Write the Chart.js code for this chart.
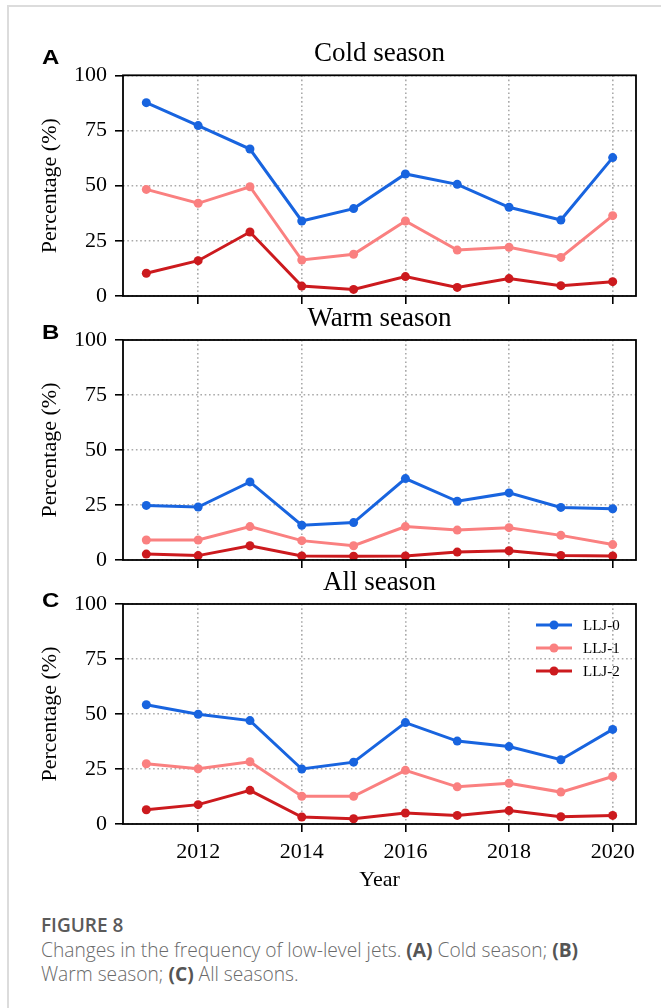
<!DOCTYPE html>
<html>
<head>
<meta charset="utf-8">
<script src="https://cdn.jsdelivr.net/npm/chart.js@4.4.1/dist/chart.umd.min.js"></script>
<style>
  html, body { margin: 0; padding: 0; background: #fff; }
  body { width: 661px; height: 1008px; position: relative; overflow: hidden; }
  .frame { position: absolute; left: 7px; top: 5px; width: 660px; height: 1010px;
           border-top: 2px solid #dcdcdc; border-left: 2px solid #dcdcdc; }
  canvas { position: absolute; left: 0; }
  .plabel { position: absolute; left: 42px; font-family: "Liberation Sans", Arial, sans-serif;
            font-weight: bold; font-size: 20px; line-height: 20px; color: #000;
            transform: scaleX(1.2); transform-origin: left top; }
  .figtitle { position: absolute; left: 41px; top: 913px; font-family: "Open Sans", sans-serif;
              font-weight: 600; font-size: 19px; line-height: 24px; color: #5a5a5a; }
  .caption { position: absolute; left: 41px; top: 938px; width: 570px; font-family: "Open Sans", sans-serif;
             font-weight: 300; font-size: 19.2px; line-height: 23.5px; color: #6a6a6a; }
  .caption b { color: #555; font-weight: 700; }
</style>
</head>
<body>
<div class="frame"></div>
<canvas id="cA" width="661" height="306" style="top:0px"></canvas>
<canvas id="cB" width="661" height="290" style="top:280px"></canvas>
<canvas id="cC" width="661" height="349" style="top:545px"></canvas>
<div class="plabel" style="top:47px">A</div>
<div class="plabel" style="top:322px">B</div>
<div class="plabel" style="top:590px">C</div>
<div class="figtitle">FIGURE 8</div>
<div class="caption">Changes in the frequency of low-level jets. <b>(A)</b> Cold season; <b>(B)</b> Warm season; <b>(C)</b> All seasons.</div>
<script>
// ---- data ----
const years = [2011, 2012, 2013, 2014, 2015, 2016, 2017, 2018, 2019, 2020];
const seriesNames = ["LLJ-0", "LLJ-1", "LLJ-2"];
const xTickValues = [2012, 2014, 2016, 2018, 2020];
const yTickValues = [0, 25, 50, 75, 100];

const cold0 = [87.6, 77.2, 66.6, 34.0, 39.6, 55.3, 50.6, 40.2, 34.4, 62.7];
const cold1 = [48.3, 42.0, 49.5, 16.3, 18.9, 34.0, 20.8, 22.1, 17.5, 36.4];
const cold2 = [10.3, 16.0, 29.0, 4.5, 3.0, 8.8, 3.9, 7.9, 4.7, 6.5];

const warm0 = [24.8, 24.1, 35.5, 15.8, 17.0, 37.0, 26.7, 30.5, 23.9, 23.3];
const warm1 = [9.1, 9.1, 15.2, 8.8, 6.5, 15.2, 13.6, 14.7, 11.2, 7.0];
const warm2 = [2.7, 2.0, 6.5, 1.8, 1.7, 1.8, 3.6, 4.2, 2.1, 1.8];

const all0 = [54.2, 49.9, 47.0, 25.0, 28.1, 46.1, 37.7, 35.2, 29.2, 43.0];
const all1 = [27.4, 25.1, 28.3, 12.6, 12.6, 24.4, 16.9, 18.5, 14.5, 21.6];
const all2 = [6.5, 8.8, 15.3, 3.2, 2.4, 5.0, 3.9, 6.1, 3.3, 3.9];

const colors = ["#1864df", "#fa8080", "#cc1a1e"];

Chart.defaults.font.family = '"Liberation Serif", "Times New Roman", serif';
Chart.defaults.color = "#000";

const framePlugin = {
  id: "frame",
  afterDatasetsDraw(chart) {
    const {ctx, chartArea: a} = chart;
    ctx.save();
    ctx.strokeStyle = "#000";
    ctx.lineWidth = 1.8;
    ctx.strokeRect(a.left, a.top, a.right - a.left, a.bottom - a.top);
    ctx.restore();
  }
};

const legendPlugin = {
  id: "innerLegend",
  afterDatasetsDraw(chart, args, opts) {
    if (!opts || !opts.show) return;
    const {ctx, chartArea: a} = chart;
    ctx.save();
    chart.data.datasets.forEach((ds, i) => {
      const y = a.top + 21 + i * 23;
      const x0 = a.right - 100, x1 = a.right - 64;
      ctx.strokeStyle = ds.borderColor;
      ctx.lineWidth = 3;
      ctx.beginPath(); ctx.moveTo(x0, y); ctx.lineTo(x1, y); ctx.stroke();
      ctx.fillStyle = ds.borderColor;
      ctx.beginPath(); ctx.arc((x0 + x1) / 2, y, 4.5, 0, Math.PI * 2); ctx.fill();
      ctx.fillStyle = "#000";
      ctx.font = '15px "Liberation Serif", serif';
      ctx.textBaseline = "middle";
      ctx.textAlign = "left";
      ctx.fillText(ds.label, a.right - 53, y + 1);
    });
    ctx.restore();
  }
};

function makeChart(id, title, vals, cfg) {
  const datasets = vals.map((v, i) => ({
    label: seriesNames[i],
    data: years.map((yr, j) => ({x: yr, y: v[j]})),
    borderColor: colors[i],
    backgroundColor: colors[i],
    pointBackgroundColor: colors[i],
    pointBorderWidth: 0,
    pointRadius: 4.5,
    borderWidth: 3,
    tension: 0,
    order: 2 - i
  }));
  const gridCommon = {
    color: "#aaaaaa", lineWidth: 1.6, drawTicks: true, tickLength: 8,
    tickColor: "#000", tickWidth: 1.6, tickBorderDash: []
  };
  return new Chart(document.getElementById(id), {
    type: "line",
    data: {datasets},
    options: {
      responsive: false,
      animation: false,
      events: [],
      layout: {padding: {top: cfg.padTop, right: 25, bottom: cfg.padBottom, left: 0}},
      plugins: {
        legend: {display: false},
        tooltip: {enabled: false},
        title: {display: true, text: title, fullSize: false,
                font: {size: 27, weight: "normal"}, color: "#000",
                padding: {top: 0, bottom: cfg.titleGap}},
        innerLegend: {show: !!cfg.legend}
      },
      scales: {
        x: {
          type: "linear", min: 2010.55, max: 2020.45,
          afterBuildTicks: s => { s.ticks = xTickValues.map(v => ({value: v})); },
          afterFit: s => { s.height = cfg.xHeight; s.paddingLeft = 0; s.paddingRight = 0; },
          grid: gridCommon,
          border: {display: false, dash: [1.6, 2.7]},
          ticks: {display: !!cfg.xLabels, padding: 7, font: {size: 22},
                  callback: v => String(v), maxRotation: 0},
          title: {display: !!cfg.xLabels, text: "Year", font: {size: 22},
                  padding: {top: 0, bottom: 1}}
        },
        y: {
          min: 0, max: 100,
          afterBuildTicks: s => { s.ticks = yTickValues.map(v => ({value: v})); },
          afterFit: s => { s.width = 123; s.paddingTop = 0; s.paddingBottom = 0; },
          grid: gridCommon,
          border: {display: false, dash: [1.6, 2.7]},
          ticks: {padding: 8, font: {size: 22}},
          title: {display: true, text: "Percentage (%)", font: {size: 22},
                  padding: {top: 37.4, bottom: 0}}
        }
      }
    },
    plugins: [framePlugin, legendPlugin]
  });
}

makeChart("cA", "Cold season", [cold0, cold1, cold2], {padTop: 38, titleGap: 4.9, padBottom: 2, xHeight: 8});
makeChart("cB", "Warm season", [warm0, warm1, warm2], {padTop: 22.8, titleGap: 4.8, padBottom: 2, xHeight: 8});
makeChart("cC", "All season", [all0, all1, all2], {padTop: 21.3, titleGap: 5.3, padBottom: 0, xHeight: 70, xLabels: true, legend: true});
</script>
</body>
</html>
